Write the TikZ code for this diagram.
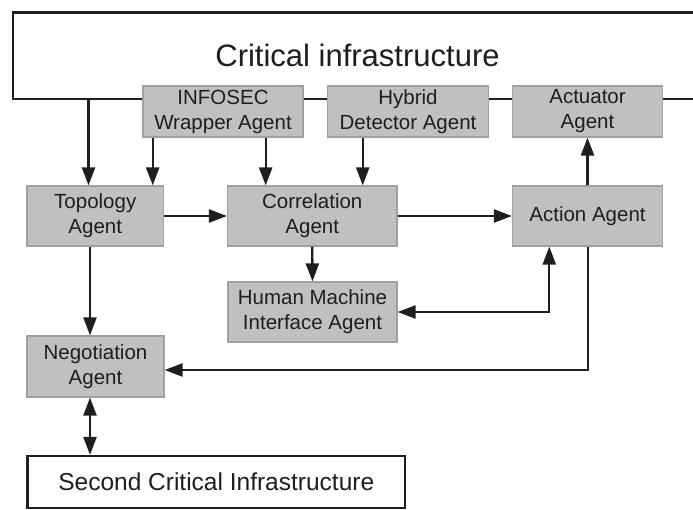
\documentclass[tikz,border=0pt]{standalone}
\usepackage{fontspec}
\setmainfont{Liberation Sans}
\usetikzlibrary{arrows.meta}
\definecolor{boxfill}{RGB}{192,192,192}
\definecolor{boxline}{RGB}{160,160,160}
\definecolor{ink}{RGB}{30,30,30}
\begin{document}
\begin{tikzpicture}[x=1pt,y=-1pt,
  agent/.style={draw=boxline,line width=1.2pt,fill=boxfill,inner sep=0pt,align=center,
    font=\fontsize{20.5}{25}\selectfont,text=ink},
  conn/.style={draw=ink,line width=2.3pt,-{Triangle[length=18pt,width=13pt]}},
  biconn/.style={draw=ink,line width=2.3pt,{Triangle[length=18pt,width=13pt]}-{Triangle[length=18pt,width=13pt]}},
  frame/.style={draw=ink,line width=2.2pt}]
\useasboundingbox (0,0) rectangle (693,509);
% critical infrastructure (open at the right)
\draw[frame] (693,12.5) -- (13,12.5) -- (13,99) -- (693,99);
\node[anchor=base,font=\fontsize{31}{36}\selectfont,text=ink] (title) at (357.5,66.5) {Critical infrastructure};
% agents
\node[agent,minimum width=160pt,minimum height=51pt] (info) at (223,111.5) {INFOSEC\\Wrapper Agent};
\node[agent,minimum width=161pt,minimum height=51pt] (hyb) at (408,111.5) {Hybrid\\Detector Agent};
\node[agent,minimum width=150pt,minimum height=51pt] (act) at (587.5,111.5) {Actuator\\Agent};
\node[agent,minimum width=136.5pt,minimum height=60pt] (topo) at (95.25,216) {Topology\\Agent};
\node[agent,minimum width=169.5pt,minimum height=60pt] (corr) at (312.25,216) {Correlation\\Agent};
\node[agent,minimum width=150pt,minimum height=60pt] (action) at (587.5,216) {Action Agent};
\node[agent,minimum width=169pt,minimum height=60pt] (hmi) at (312.5,312) {Human Machine\\Interface Agent};
\node[agent,minimum width=137pt,minimum height=61pt] (neg) at (95.5,366.5) {Negotiation\\Agent};
\node[draw=ink,line width=2.2pt,fill=white,inner sep=0pt,minimum width=377.5pt,minimum height=52pt,
  font=\fontsize{24.5}{28}\selectfont,text=ink] (second) at (216.25,482) {Second Critical Infrastructure};
% helper x positions
\coordinate (xa) at (88.5,99);
\coordinate (xb) at (152.7,0);
\coordinate (xc) at (265.7,0);
\coordinate (xd) at (362.7,0);
\coordinate (xe) at (90,0);
\coordinate (hmibend) at (549.3,312);
\coordinate (actbend) at (588.3,370);
% connectors
\draw[conn] (xa) -- (topo.north -| xa);
\draw[conn] (info.south -| xb) -- (topo.north -| xb);
\draw[conn] (info.south -| xc) -- (corr.north -| xc);
\draw[conn] (hyb.south -| xd) -- (corr.north -| xd);
\draw[conn] (topo.east) -- (corr.west);
\draw[conn] (corr.east) -- (action.west);
\draw[conn] (action.north) -- (act.south);
\draw[conn] (corr.south) -- (hmi.north);
\draw[conn] (topo.south -| xe) -- (neg.north -| xe);
\draw[biconn] (hmi.east |- hmibend) -- (hmibend) -- (action.south -| hmibend);
\draw[conn] (action.south -| actbend) -- (actbend) -- (neg.east |- actbend);
\draw[biconn] (neg.south -| xe) -- (second.north -| xe);
\end{tikzpicture}
\end{document}
